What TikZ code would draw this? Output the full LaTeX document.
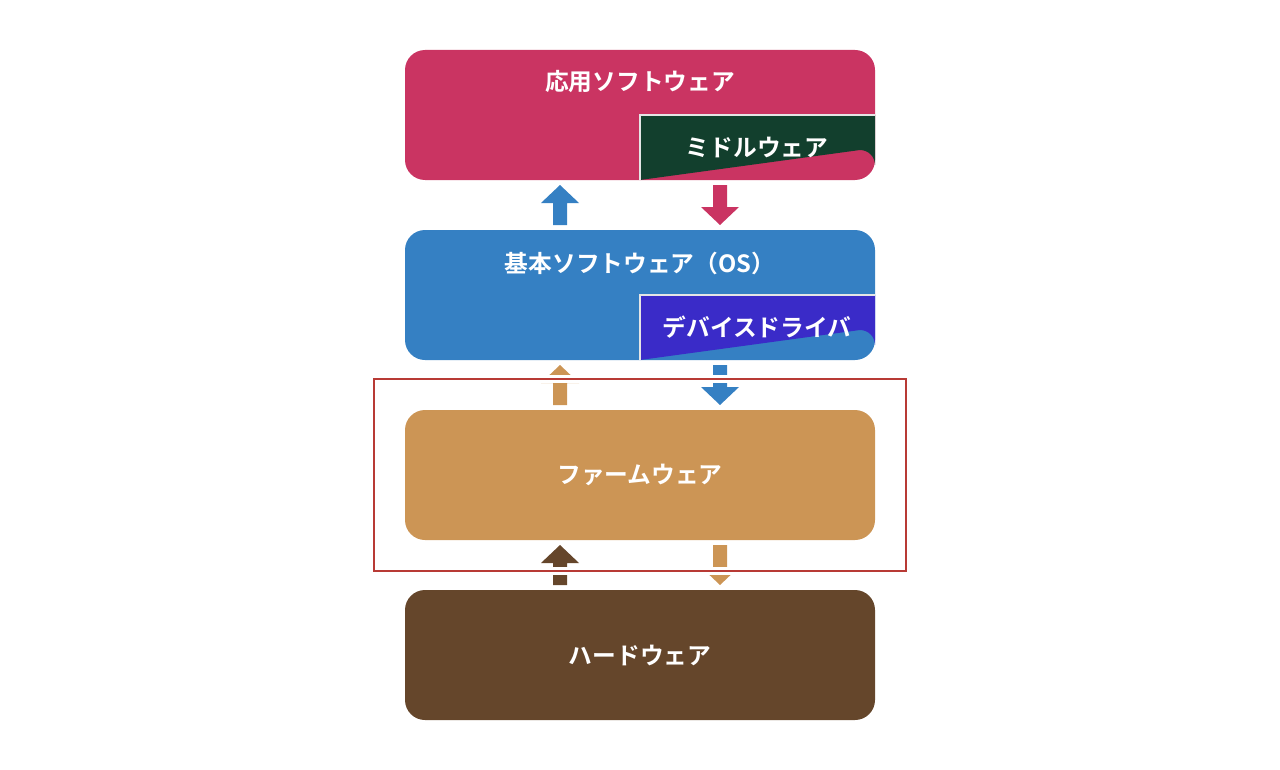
\documentclass[tikz,border=0pt]{standalone}
\usepackage{fontspec}
\newfontfamily\jp{Noto Sans CJK JP Bold}
\definecolor{crim}{HTML}{CA3462}
\definecolor{dgreen}{HTML}{123F2D}
\definecolor{osblue}{HTML}{3580C3}
\definecolor{drv}{HTML}{3A2BC8}
\definecolor{tan}{HTML}{CC9555}
\definecolor{brn}{HTML}{65462B}
\definecolor{redr}{HTML}{B83A35}
\newcommand\uparr[4]{\fill[#4] (#1-7,#3) -- (#1-7,#2+18) -- (#1-19,#2+18) -- (#1,#2) -- (#1+19,#2+18) -- (#1+7,#2+18) -- (#1+7,#3) -- cycle;}
\newcommand\dnarr[4]{\fill[#4] (#1-7,#2) -- (#1-7,#3-18) -- (#1-19,#3-18) -- (#1,#3) -- (#1+19,#3-18) -- (#1+7,#3-18) -- (#1+7,#2) -- cycle;}
\newcommand\subbox[3]{\fill[#3] (640,#1) -- (875,#1) -- (875,#2-15) arc[start angle=0,end angle=-90,radius=15] -- (640,#2) -- cycle;
\draw[white!80!gray,line width=0.8] (640,#2) -- (640,#1) -- (875,#1);}
\begin{document}
\begin{tikzpicture}[x=0.75pt,y=-0.75pt,
 lbl/.style={text=white,font=\jp\fontsize{17.8}{20}\selectfont},
 layer/.style={rounded corners=15}]
\useasboundingbox (0,0) rectangle (1280,770);
\fill[layer,crim] (405,50) rectangle (875,180);
\subbox{115}{180}{dgreen}
\node[lbl] (app) at (640,82) {応用ソフトウェア};
\node[lbl] (mid) at (757,147) {ミドルウェア};
\fill[layer,osblue] (405,230) rectangle (875,360);
\subbox{295}{360}{drv}
\node[lbl] (os) at (640,263) {基本ソフトウェア（OS）};
\node[lbl] (dd) at (757,327) {デバイスドライバ};
\fill[layer,tan] (405,410) rectangle (875,540);
\node[lbl] (fw) at (640,475) {ファームウェア};
\fill[layer,brn] (405,590) rectangle (875,720);
\node[lbl] (hw) at (640,655) {ハードウェア};
\uparr{560}{185}{225}{osblue}
\dnarr{720}{185}{225}{crim}
\uparr{560}{365}{405}{tan}
\dnarr{720}{365}{405}{osblue}
\uparr{560}{545}{585}{brn}
\dnarr{720}{545}{585}{tan}
\draw[white,line width=6] (374,379) rectangle (906,571);
\draw[redr,line width=2] (374,379) rectangle (906,571);
\end{tikzpicture}
\end{document}
